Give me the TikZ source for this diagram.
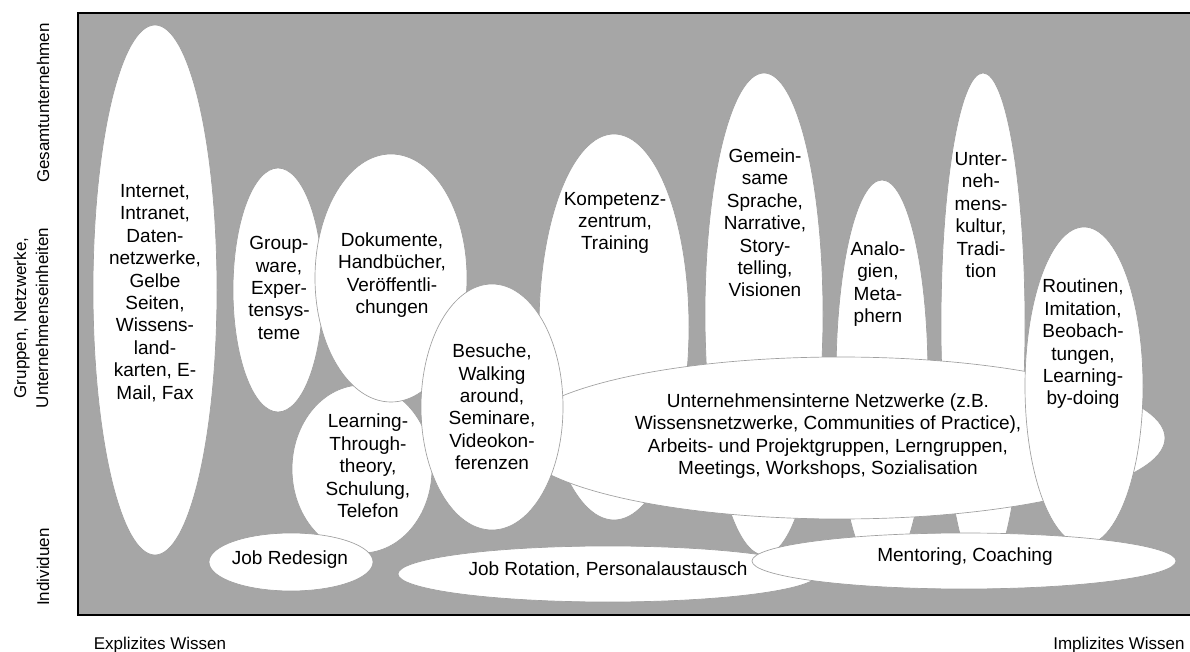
\documentclass[tikz,border=0pt]{standalone}
\usepackage{fontspec}
\setmainfont{Liberation Sans}
\definecolor{panel}{RGB}{166,166,166}
\definecolor{rim}{RGB}{160,160,160}
\begin{document}
\begin{tikzpicture}[x=0.75pt,y=-0.75pt,
  blob/.style={fill=white,draw=rim,line width=0.5pt},
  lbl/.style={align=center,font=\fontsize{14.25}{16.8}\selectfont,inner sep=0pt},
  axislbl/.style={align=center,font=\fontsize{12.75}{16.5}\selectfont,inner sep=0pt}]
\useasboundingbox (0,0) rectangle (1190,652);

% grey field with its frame (open to the right)
\fill[panel] (78,13) rectangle (1190,615);
\draw[line width=1.2pt] (1190,13) -- (78,13) -- (78,615) -- (1190,615);

% knowledge-transfer instruments, back to front
\path[blob] (155,290) ellipse [x radius=62, y radius=265];   % Internet
\path[blob] (278,290) ellipse [x radius=45, y radius=122];   % Groupware
\path[blob] (362,469) ellipse [x radius=70, y radius=84];    % Learning-Through-theory
\path[blob] (391,278) ellipse [x radius=76, y radius=124];   % Dokumente
\path[blob] (614,327) ellipse [x radius=75, y radius=193];   % Kompetenzzentrum
\path[blob] (764,314) ellipse [x radius=59, y radius=241];   % Gemeinsame Sprache
\path[blob] (882,377) ellipse [x radius=46, y radius=197];   % Analogien
\path[blob] (983,324) ellipse [x radius=42, y radius=251];   % Unternehmenskultur
\path[blob] (840,438) ellipse [x radius=325, y radius=81];   % Netzwerke
\path[blob] (492,407) ellipse [x radius=71, y radius=123];   % Besuche
\path[blob] (1084,386) ellipse [x radius=59, y radius=159];  % Routinen
\path[blob] (291,562) ellipse [x radius=82, y radius=29];    % Job Redesign
\path[blob] (608,574) ellipse [x radius=210, y radius=28];   % Job Rotation
\path[blob] (964,561) ellipse [x radius=212, y radius=28];   % Mentoring

% labels
\node[lbl] (internet) at (155,293) {Internet,\\Intranet,\\Daten-\\netzwerke,\\Gelbe\\Seiten,\\Wissens-\\land-\\karten, E-\\Mail, Fax};
\node[lbl] (groupware) at (279,288) {Group-\\ware,\\Exper-\\tensys-\\teme};
\node[lbl] (dokumente) at (392,275) {Dokumente,\\Handbücher,\\Veröffentli-\\chungen};
\node[lbl] (learning) at (368,466) {Learning-\\Through-\\theory,\\Schulung,\\Telefon};
\node[lbl] (besuche) at (492,407) {Besuche,\\Walking\\around,\\Seminare,\\Videokon-\\ferenzen};
\node[lbl] (kompetenz) at (615,223) {Kompetenz-\\zentrum,\\Training};
\node[lbl] (sprache) at (765,223) {Gemein-\\same\\Sprache,\\Narrative,\\Story-\\telling,\\Visionen};
\node[lbl] (analogien) at (878,284) {Analo-\\gien,\\Meta-\\phern};
\node[lbl] (kultur) at (981,215) {Unter-\\neh-\\mens-\\kultur,\\Tradi-\\tion};
\node[lbl] (routinen) at (1083,344) {Routinen,\\Imitation,\\Beobach-\\tungen,\\Learning-\\by-doing};
\node[lbl] (netzwerke) at (828,436) {Unternehmensinterne Netzwerke (z.B.\\Wissensnetzwerke, Communities of Practice),\\Arbeits- und Projektgruppen, Lerngruppen,\\Meetings, Workshops, Sozialisation};
\node[lbl] (redesign) at (290,560) {Job Redesign};
\node[lbl] (rotation) at (608,570) {Job Rotation, Personalaustausch};
\node[lbl] (mentoring) at (965,557) {Mentoring, Coaching};

% axes
\node[axislbl,rotate=90] (gesamt) at (43,103) {Gesamtunternehmen};
\node[axislbl,rotate=90] (gruppen) at (31,318) {Gruppen, Netzwerke,\\Unternehmenseinheiten};
\node[axislbl,rotate=90] (individuen) at (43,567) {Individuen};
\node[axislbl] (explizit) at (160,645) {Explizites Wissen};
\node[axislbl] (implizit) at (1119,645) {Implizites Wissen};
\end{tikzpicture}
\end{document}
